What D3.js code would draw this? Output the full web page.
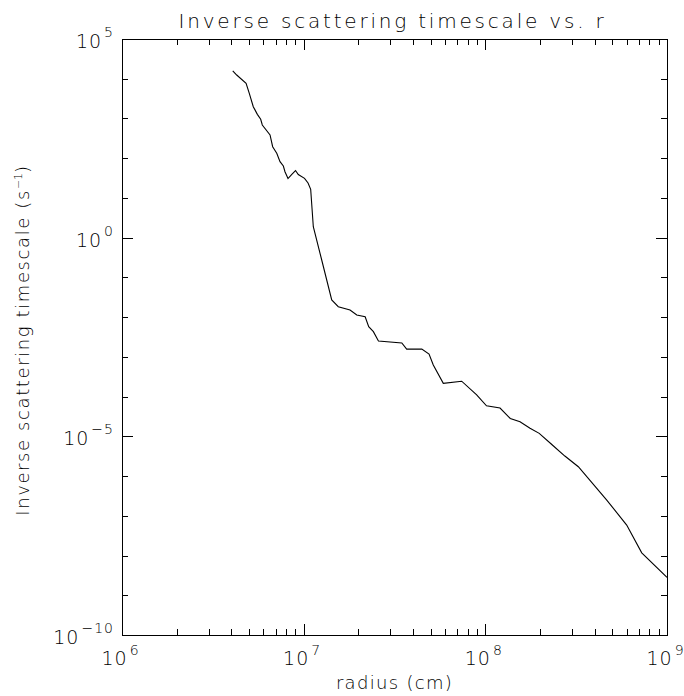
<!DOCTYPE html>
<html>
<head>
<meta charset="utf-8">
<title>Inverse scattering timescale vs. r</title>
<script src="https://cdn.jsdelivr.net/npm/d3@7"></script>
<style>
body { margin: 0; background: #fff; }
text { font-family: "DejaVu Sans", sans-serif; font-weight: 200; fill: #000; }
.axis path.domain { stroke: #000; stroke-width: 1px; shape-rendering: crispEdges; }
.axis line { stroke: #000; stroke-width: 1px; shape-rendering: crispEdges; }
</style>
</head>
<body>
<svg id="chart"></svg>
<script>
// radius (cm) and inverse scattering timescale (s^-1)
var radius = [4.07e6, 4.28e6, 4.82e6, 5.02e6, 5.28e6, 5.56e6, 5.80e6, 5.92e6, 6.53e6, 6.75e6,
	7.11e6, 7.41e6, 7.73e6, 7.89e6, 8.20e6, 8.63e6, 9.02e6, 9.34e6, 1.011e7, 1.057e7,
	1.093e7, 1.130e7, 1.257e7, 1.427e7, 1.551e7, 1.80e7, 1.96e7, 2.18e7, 2.28e7, 2.42e7,
	2.58e7, 3.47e7, 3.69e7, 4.47e7, 4.90e7, 5.17e7, 5.87e7, 7.41e7, 8.96e7, 1.015e8,
	1.205e8, 1.372e8, 1.552e8, 1.762e8, 1.98e8, 2.33e8, 2.74e8, 3.25e8, 4.66e8, 6.00e8,
	7.26e8, 1.0e9];
var rate = [1.57e4, 1.24e4, 7.67e3, 4.30e3, 1.98e3, 1.27e3, 953, 684, 384, 195,
	133, 81.6, 63.6, 45.7, 30.8, 40.0, 49.0, 38.8, 31.2, 23.8,
	16.5, 1.89, 0.274, 0.0270, 0.0183, 0.0151, 0.0113, 0.0102, 0.00574, 0.00430,
	0.00251, 0.00223, 0.00157, 0.00157, 0.00118, 6.24e-4, 2.16e-4, 2.44e-4, 1.10e-4, 5.86e-5,
	5.15e-5, 2.81e-5, 2.33e-5, 1.59e-5, 1.19e-5, 6.15e-6, 3.19e-6, 1.72e-6, 2.49e-7, 5.85e-8,
	1.17e-8, 2.82e-9];

var xMajor = [1e6, 1e7, 1e8, 1e9];
var xMajorExp = ["6", "7", "8", "9"];
var yMajor = [1e-10, 1e-5, 1e0, 1e5];
var yMajorExp = ["\u221210", "\u22125", "0", "5"];

var width = 684, height = 696;
var margin = {top: 39, right: 17, bottom: 61, left: 122};

var svg = d3.select("#chart")
	.attr("width", width)
	.attr("height", height);

var x = d3.scaleLog().domain([1e6, 1e9]).range([margin.left, width - margin.right]);
var y = d3.scaleLog().domain([1e-10, 1e5]).range([height - margin.bottom, margin.top]);

//minor ticks: 2..9 per decade on x, every decade on y
var xMinor = [];
for (var e = 6; e < 9; e++) {
	for (var m = 2; m < 10; m++) xMinor.push(m * Math.pow(10, e));
}
var yMinor = [];
for (var e = -10; e <= 5; e++) {
	if (e % 5 != 0) yMinor.push(Math.pow(10, e));
}

var x0 = x.range()[0], x1 = x.range()[1];
var y0 = y.range()[0], y1 = y.range()[1];
var majLen = 11, minLen = 6;

function drawAxis(axis, tx, ty) {
	svg.append("g")
		.attr("class", "axis")
		.attr("transform", "translate(" + tx + "," + ty + ")")
		.call(axis);
}

//bottom / top
drawAxis(d3.axisBottom(x).tickValues(xMajor).tickFormat("").tickSize(-majLen).tickSizeOuter(0), 0, y0);
drawAxis(d3.axisBottom(x).tickValues(xMinor).tickFormat("").tickSize(-minLen).tickSizeOuter(0), 0, y0);
drawAxis(d3.axisTop(x).tickValues(xMajor).tickFormat("").tickSize(-majLen).tickSizeOuter(0), 0, y1);
drawAxis(d3.axisTop(x).tickValues(xMinor).tickFormat("").tickSize(-minLen).tickSizeOuter(0), 0, y1);
//left / right
drawAxis(d3.axisLeft(y).tickValues(yMajor).tickFormat("").tickSize(-majLen).tickSizeOuter(0), x0, 0);
drawAxis(d3.axisLeft(y).tickValues(yMinor).tickFormat("").tickSize(-minLen).tickSizeOuter(0), x0, 0);
drawAxis(d3.axisRight(y).tickValues(yMajor).tickFormat("").tickSize(-majLen).tickSizeOuter(0), x1, 0);
drawAxis(d3.axisRight(y).tickValues(yMinor).tickFormat("").tickSize(-minLen).tickSizeOuter(0), x1, 0);

//tick labels with superscript exponents
var xl = svg.selectAll("text.xlab")
	.data(xMajor)
	.enter()
	.append("text")
	.attr("class", "xlab")
	.attr("x", function(d) { return x(d) - 2; })
	.attr("y", y0 + 30)
	.attr("text-anchor", "middle")
	.style("font-size", "19px");
xl.append("tspan").style("letter-spacing", "1px").text("10");
xl.append("tspan")
	.attr("dx", 2)
	.attr("dy", -10)
	.style("font-size", "14px")
	.text(function(d, i) { return xMajorExp[i]; });

var yl = svg.selectAll("text.ylab")
	.data(yMajor)
	.enter()
	.append("text")
	.attr("class", "ylab")
	.attr("x", x0 - 8)
	.attr("y", function(d) { return y(d) + 9; })
	.attr("text-anchor", "end")
	.style("font-size", "19px");
yl.append("tspan").style("letter-spacing", "1px").text("10");
yl.append("tspan")
	.attr("dx", 2)
	.attr("dy", -11)
	.style("font-size", "14px")
	.style("letter-spacing", "1px")
	.text(function(d, i) { return yMajorExp[i]; });

//data line
var pts = radius.map(function(r, i) { return [r, rate[i]]; });
svg.append("path")
	.datum(pts)
	.attr("d", d3.line().x(function(d) { return x(d[0]); }).y(function(d) { return y(d[1]); }))
	.style("fill", "none")
	.style("stroke", "#000")
	.style("stroke-width", "1.1px");

//titles
svg.append("text")
	.attr("x", (x0 + x1) / 2 - 2)
	.attr("y", 28)
	.attr("text-anchor", "middle")
	.style("font-size", "20px")
	.style("letter-spacing", "2.8px")
	.text("Inverse scattering timescale vs. r");

svg.append("text")
	.attr("x", (x0 + x1) / 2)
	.attr("y", 689)
	.attr("text-anchor", "middle")
	.style("font-size", "18px")
	.style("letter-spacing", "1.3px")
	.text("radius (cm)");

var yt = svg.append("text")
	.attr("transform", "translate(29," + ((y0 + y1) / 2 + 3) + ") rotate(-90)")
	.attr("text-anchor", "middle")
	.style("font-size", "18px")
	.style("letter-spacing", "1.6px");
yt.append("tspan").text("Inverse scattering timescale (s");
yt.append("tspan").attr("dy", -7).style("font-size", "11px").style("letter-spacing", "0px").text("\u22121");
yt.append("tspan").attr("dy", 7).text(")");
</script>
</body>
</html>
